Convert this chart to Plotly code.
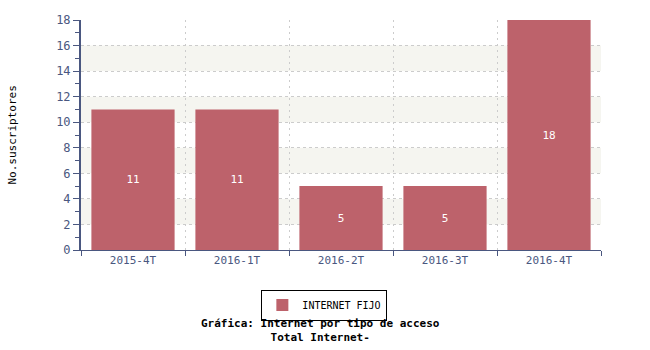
import plotly.graph_objects as go

categories = ["2015-4T", "2016-1T", "2016-2T", "2016-3T", "2016-4T"]
values = [11, 11, 5, 5, 18]
series_name = "INTERNET FIJO"
band_starts = [2, 6, 10, 14]
band_height = 2

FONT = "DejaVu Sans Mono"
AXIS = "#4a5780"

fig = go.Figure()
fig.add_trace(go.Bar(
    x=categories, y=values, name=series_name,
    marker=dict(color="#bd626b", line=dict(width=0)),
    width=0.8,
    text=[str(v) for v in values], textposition="inside",
    insidetextanchor="middle",
    textfont=dict(color="white", size=11, family=FONT),
    showlegend=True,
))

shapes = []
for b in band_starts:
    shapes.append(dict(type="rect", xref="paper", yref="y", x0=0, x1=1,
                       y0=b, y1=b + band_height, fillcolor="#f5f5f0",
                       line=dict(width=0), layer="below"))

fig.update_layout(
    width=650, height=350,
    margin=dict(l=81, r=49, t=20, b=100),
    paper_bgcolor="white", plot_bgcolor="white",
    font=dict(family=FONT, size=11, color=AXIS),
    shapes=shapes,
    bargap=0.2,
    showlegend=True,
    legend=dict(orientation="h", x=0.468, xanchor="center", y=-0.172, yanchor="top",
                bordercolor="black", borderwidth=1, bgcolor="white",
                itemwidth=30,
                font=dict(family=FONT, size=10, color="black")),
    xaxis=dict(range=[-0.5, 4.5], tickson="boundaries", ticks="outside", ticklen=5,
               tickcolor=AXIS, showline=True, linecolor=AXIS, linewidth=1,
               showgrid=True, gridcolor="#cccccc", griddash="2px,4px",
               tickfont=dict(family=FONT, size=11, color=AXIS), fixedrange=True),
    yaxis=dict(range=[0, 18], dtick=2, ticks="outside", ticklen=6, tickcolor=AXIS,
               showline=True, linecolor=AXIS, linewidth=2,
               showgrid=True, gridcolor="#cccccc", griddash="3px,3px",
               zeroline=False,
               minor=dict(dtick=1, ticks="outside", ticklen=4, tickcolor=AXIS, showgrid=False),
               tickfont=dict(family=FONT, size=12, color=AXIS)),
    annotations=[
        dict(text="No.suscriptores", textangle=-90, xref="paper", yref="paper",
             x=-0.15, y=0.5, showarrow=False, font=dict(family=FONT, size=11, color="black")),
        dict(text="<b>Gráfica: Internet por tipo de acceso</b><br><b>Total Internet-</b>",
             xref="paper", yref="paper", align="center",
             x=0.4615, y=-0.352, yanchor="middle", showarrow=False,
             font=dict(family=FONT, size=11, color="black")),
    ],
)

fig.write_html("out.html")
